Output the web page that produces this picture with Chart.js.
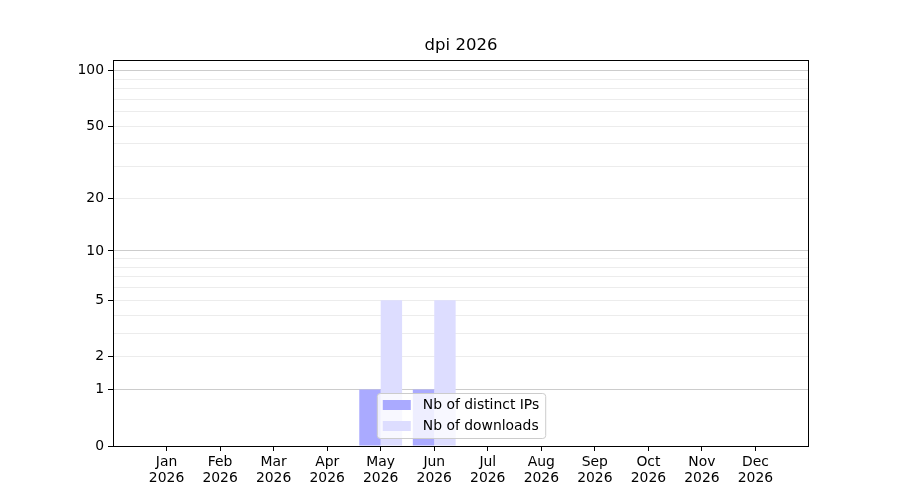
<!DOCTYPE html>
<html>
<head>
<meta charset="utf-8">
<script src="https://cdn.jsdelivr.net/npm/chart.js@4/dist/chart.umd.min.js"></script>
<style>
  body { margin: 0; background: #fff; }
  #wrap { width: 900px; height: 500px; }
</style>
</head>
<body>
<div id="wrap"><canvas id="dpiChart"></canvas></div>
<script>
const months = ['Jan', 'Feb', 'Mar', 'Apr', 'May', 'Jun', 'Jul', 'Aug', 'Sep', 'Oct', 'Nov', 'Dec'];
const year = '2026';
const distinctIps = [0, 0, 0, 0, 1, 1, 0, 0, 0, 0, 0, 0];
const downloads = [0, 0, 0, 0, 5, 5, 0, 0, 0, 0, 0, 0];
const majorTicks = [0, 1, 2, 5, 10, 20, 50, 100];
const gridValues = [0, 1, 2, 3, 4, 5, 6, 7, 8, 9, 10, 20, 30, 40, 50, 60, 70, 80, 90, 100];
const yTop = 114;

const FONT = 'DejaVu Sans';

// symlog-like axis: position = log10(1 + v)
const tf = v => Math.log10(1 + v);

// one empty slot each side so the axis spans a full month past Jan and Dec
const labels = [''].concat(months.map(m => [m, year]), ['']);
const pad = arr => [null].concat(arr.map(tf), [null]);

const framePlugin = {
  id: 'frame',
  afterDraw(chart) {
    const { ctx, chartArea: a } = chart;
    ctx.save();
    ctx.strokeStyle = '#000';
    ctx.lineWidth = 1;
    ctx.strokeRect(a.left + 0.5, a.top + 0.5, a.right - a.left - 1, a.bottom - a.top);

    // title
    ctx.fillStyle = '#000';
    ctx.font = '16.5px "' + FONT + '"';
    ctx.textAlign = 'center';
    ctx.textBaseline = 'middle';
    ctx.fillText('dpi ' + year, (a.left + a.right) / 2, 46);

    // legend, lower center inside the axes
    ctx.font = '13.9px "' + FONT + '"';
    const ds = chart.data.datasets;
    const w = Math.max(...ds.map(d => ctx.measureText(d.label).width));
    const bw = 6 + 28 + 12 + w + 6;
    const bh = 45;
    const bx = (a.left + a.right) / 2 - bw / 2;
    const by = a.bottom - 8 - bh;
    ctx.beginPath();
    ctx.roundRect(bx + 0.5, by + 0.5, bw, bh, 3);
    ctx.fillStyle = 'rgba(255,255,255,0.8)';
    ctx.fill();
    ctx.strokeStyle = '#cccccc';
    ctx.stroke();
    ds.forEach((d, i) => {
      const y = by + 7 + i * 21;
      ctx.fillStyle = d.backgroundColor;
      ctx.fillRect(bx + 6, y, 28, 10);
      ctx.fillStyle = '#000';
      ctx.textAlign = 'left';
      ctx.fillText(d.label, bx + 46, y + 5);
    });
    ctx.restore();
  }
};

new Chart(document.getElementById('dpiChart'), {
  type: 'bar',
  data: {
    labels: labels,
    datasets: [{
      label: 'Nb of distinct IPs',
      data: pad(distinctIps),
      backgroundColor: 'rgb(170, 170, 255)'
    }, {
      label: 'Nb of downloads',
      data: pad(downloads),
      backgroundColor: 'rgb(221, 221, 255)'
    }]
  },
  options: {
    responsive: true,
    maintainAspectRatio: false,
    animation: false,
    devicePixelRatio: 1,
    layout: { padding: { top: 60, right: 91, left: 0, bottom: 0 } },
    datasets: { bar: { categoryPercentage: 0.8, barPercentage: 1.0 } },
    plugins: {
      legend: { display: false },
      title: { display: false },
      tooltip: { enabled: false }
    },
    scales: {
      x: {
        offset: false,
        afterFit(scale) { scale.height = 54; },
        grid: {
          offset: false,
          drawOnChartArea: false,
          tickLength: 5,
          tickColor: c => (c.index === 0 || c.index === labels.length - 1) ? 'rgba(0,0,0,0)' : '#000'
        },
        border: { display: false },
        ticks: {
          color: '#000',
          padding: 3,
          maxRotation: 0,
          autoSkip: false,
          font: { family: FONT, size: 13.9, lineHeight: 1.15 }
        }
      },
      y: {
        z: 1,
        min: 0,
        max: tf(yTop),
        afterFit(scale) { scale.width = 113; },
        afterBuildTicks(scale) {
          scale.ticks = gridValues.map(v => ({ value: tf(v), raw: v }));
        },
        grid: {
          color: c => {
            const v = gridValues[c.index];
            if (v === 0) return 'rgba(0,0,0,0)';
            return (v === 1 || v === 10 || v === 100) ? '#cccccc' : '#ececec';
          },
          lineWidth: 1,
          tickLength: 5,
          tickColor: c => majorTicks.includes(gridValues[c.index]) ? '#000' : 'rgba(0,0,0,0)'
        },
        border: { display: false },
        ticks: {
          color: '#000',
          padding: 4,
          autoSkip: false,
          font: { family: FONT, size: 13.9 },
          callback: (val, i) => majorTicks.includes(gridValues[i]) ? String(gridValues[i]) : ''
        }
      }
    }
  },
  plugins: [framePlugin]
});
</script>
</body>
</html>
